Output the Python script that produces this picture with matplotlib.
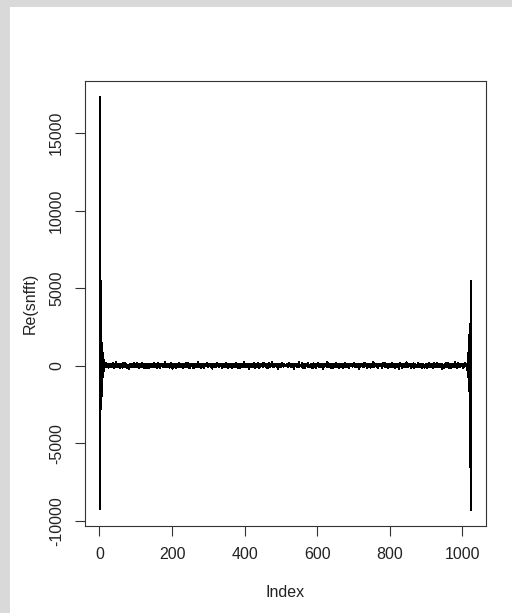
import numpy as np
import matplotlib.pyplot as plt
from matplotlib.patches import Rectangle
from matplotlib.ticker import MultipleLocator

plt.rcParams['font.family'] = ['Liberation Sans', 'DejaVu Sans']
plt.rcParams['axes.unicode_minus'] = False

# Re(snfft): leading coefficients (index 1..12)
head = [17300, -9260, 5460, -2800, 3790, -1950, 1500, -1000, 800, -600, 400, -300]

# trailing coefficients (index 1014..1024)
tail = [-300, 500, -700, 1100, -1600, 2000, -2600, 2690, -6550, 5460, -9260]

# noise floor, index 13..512 (mirrored for 514..1013)
noise = [
    60, -70, 110, 10, 40, 190, -30, 80, -90, 20, 130, 30, -120, 50, 0, 70, 150, -40, 20, 90,
    -20, 50, -60, 110, 30, 160, -10, -140, 60, 20, 100, -80, 40, 230, -20, 70, 10, -50, 120, 40,
    -90, 30, 80, 140, -160, 20, 60, -30, 100, 50, -110, 10, 70, 170, -40, 40, 0, 90, 210, -70,
    30, 120, -20, 50, -130, 80, 10, 60, -40, -190, 100, 30, 140, -60, 20, 70, -10, 110, 40, -80,
    50, 0, 90, 200, -50, 30, 130, -100, 60, 20, -30, 160, 40, -70, 80, -150, 10, 120, 50, -20,
    110, -90, 40, 70, 20, 180, -60, 30, 100, -10, 60, -140, 90, 30, 150, -40, 10, 80, -110, 50,
    -30, 130, 20, 60, -170, 90, 40, -20, 110, 70, -80, 30, 10, 140, 50, -50, 190, 20, -100, 60,
    80, 30, -70, 120, 10, 50, -120, 90, 160, -30, 40, -60, 20, 100, -150, 70, 30, 130, -10, 50,
    -40, 90, 140, -90, 30, 60, 10, 220, -50, 80, -20, 40, 120, -100, 20, 70, -30, 150, 50, 0,
    -110, 60, 30, 100, -40, 170, 20, -80, -180, 50, 90, 10, 130, -60, 40, 80, -20, 110, -130, 30,
    70, -10, 50, 150, -90, 40, 200, -30, 60, 100, -70, 20, 120, 40, -50, 90, 10, -120, 140, 30,
    20, 80, -60, 110, -20, 50, 160, -100, 30, 70, 0, 130, 180, -40, 60, -140, 20, 90, -10, 50,
    110, -30, 70, 40, 150, -80, -160, 20, 100, 60, -50, 30, 130, 80, -20, 40, -90, 170, 10, 230,
    -60, 90, 40, -30, 120, 20, -110, 60, 140, 30, -40, 80, -70, 100, 50, -150, 10, 130, 30, -10,
    70, -20, 160, 50, 190, -50, 80, -90, 30, 110, -30, 60, 20, 140, -60, 40, 90, -120, -170, 50,
    100, 30, -40, 130, 10, 70, -80, 50, 120, -100, 40, 210, 20, -20, 90, 60, -60, 150, 30, 10,
    -30, 80, 120, -10, 60, -140, 100, 40, 70, -50, 20, 130, -90, 50, 10, 160, 190, 30, -70, 90,
    40, 110, -130, 20, 80, 30, -30, 140, -60, 70, 10, 100, -160, 50, 120, 20, -20, 60, -90, 150,
    30, -40, 180, 70, -80, 40, 100, 10, 60, -110, 130, 20, 90, -30, 50, -130, 80, 110, -10, 40,
    -60, 120, 20, 50, 80, 240, -40, -90, 100, 30, 70, 140, -20, 60, -70, 30, 110, 20, -190, 90,
    50, -20, 130, 40, -50, 100, 10, 60, 150, -100, 30, 70, 210, -30, 80, 20, -120, 120, 40, 60,
    10, -80, 90, 160, 30, -30, -170, 50, 110, 40, -60, 130, 20, 80, -10, 60, 30, -90, 70, 180,
    90, 20, 140, -40, 50, 100, 30, -110, 60, 10, 120, -20, -150, 70, 170, 40, -50, 90, 20, 50,
    -30, 80, 40, 220, -70, 60, 10, 130, 30, -80, 100, 50, -40, 150, 70, -20, 90, 20, -180, 110,
    40, 60, -100, 120, 30, -10, 80, -50, 20, 140, 200, 50, -30, 90, -60, 30, 110, 10, 70, 40,
]
nyquist = [30]

# real part of an FFT of real data is symmetric about the Nyquist bin
re_snfft = np.array(head + noise + nyquist + noise[::-1] + tail, dtype=float)
idx = np.arange(1, len(re_snfft) + 1)

fig = plt.figure(figsize=(5.12, 6.13), dpi=100)
fig.patch.set_facecolor('white')
# grey window frame on the left and top
fig.add_artist(Rectangle((0, 0), 10 / 512, 1, transform=fig.transFigure,
                         facecolor='#d9d9d9', edgecolor='none', zorder=0))
fig.add_artist(Rectangle((0, 1 - 7 / 613), 1, 7 / 613, transform=fig.transFigure,
                         facecolor='#d9d9d9', edgecolor='none', zorder=0))

ax = fig.add_axes([85 / 512, 1 - 526 / 613, (486 - 85) / 512, (526 - 81) / 613])
ax.plot(idx, re_snfft, color='black', linewidth=0.8, antialiased=False)
ax.margins(x=0.04, y=0.04)

ax.xaxis.set_major_locator(MultipleLocator(200))
ax.yaxis.set_major_locator(MultipleLocator(5000))
ax.set_xlim(ax.get_xlim())
ax.set_ylim(ax.get_ylim())

for s in ax.spines.values():
    s.set_linewidth(0.8)
    s.set_color('#333333')

ax.tick_params(direction='out', length=7, width=0.8, color='#333333',
               labelsize=11.5, labelcolor='#222222', pad=8)
ax.tick_params(axis='y', labelrotation=90)
for lab in ax.get_yticklabels():
    lab.set_va('center')

ax.set_xlabel('Index', fontsize=11.5, color='#222222', labelpad=17)
ax.set_ylabel('Re(snfft)', fontsize=11.5, color='#222222')
ax.yaxis.set_label_coords(-0.117, 0.5)

plt.savefig('out.png', dpi=100)
